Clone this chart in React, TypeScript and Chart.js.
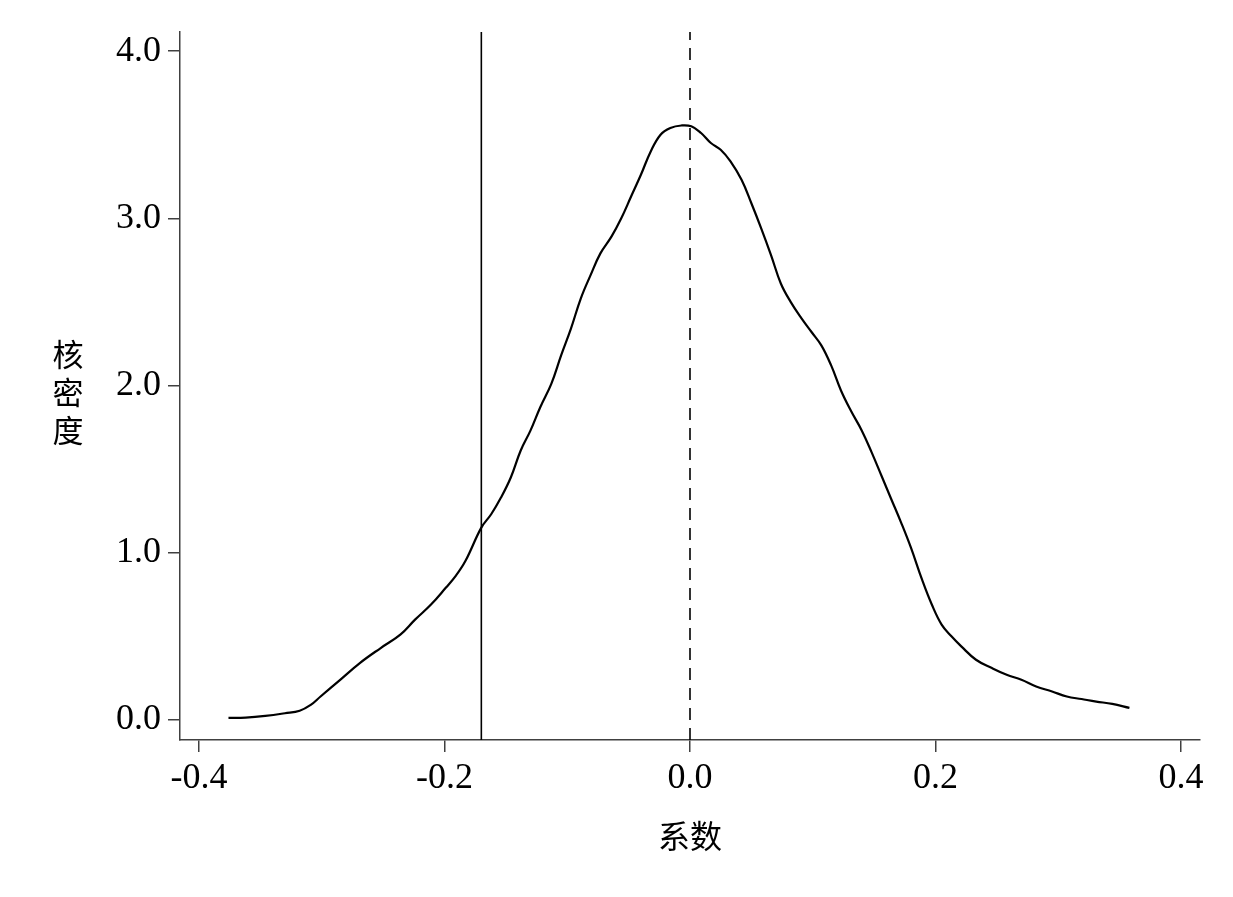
import React, { useEffect, useRef } from "react";
import { Chart, registerables } from "chart.js";

Chart.register(...registerables);

const densityX = [
  -0.376, -0.362, -0.346, -0.330, -0.318, -0.309, -0.301, -0.285, -0.269, -0.252,
  -0.236, -0.224, -0.211, -0.199, -0.191, -0.183, -0.170, -0.162, -0.154, -0.146,
  -0.138, -0.130, -0.122, -0.113, -0.105, -0.097, -0.089, -0.081, -0.073, -0.064,
  -0.056, -0.048, -0.040, -0.032, -0.024, -0.016, -0.007, 0.001, 0.009, 0.017,
  0.025, 0.033, 0.042, 0.050, 0.058, 0.066, 0.074, 0.082, 0.091, 0.099,
  0.107, 0.115, 0.123, 0.131, 0.140, 0.148, 0.156, 0.164, 0.172, 0.180,
  0.189, 0.197, 0.205, 0.213, 0.221, 0.233, 0.246, 0.258, 0.270, 0.282,
  0.295, 0.307, 0.319, 0.331, 0.344, 0.358,
];
const densityY = [
  0.012, 0.014, 0.024, 0.040, 0.055, 0.090, 0.140, 0.240, 0.340, 0.430,
  0.510, 0.600, 0.690, 0.790, 0.860, 0.950, 1.150, 1.230, 1.330, 1.450,
  1.610, 1.730, 1.870, 2.010, 2.180, 2.340, 2.520, 2.660, 2.790, 2.890,
  3.000, 3.130, 3.260, 3.400, 3.500, 3.540, 3.555, 3.550, 3.510, 3.450,
  3.410, 3.340, 3.230, 3.090, 2.940, 2.780, 2.610, 2.500, 2.400, 2.320,
  2.240, 2.120, 1.970, 1.850, 1.730, 1.600, 1.460, 1.320, 1.180, 1.030,
  0.840, 0.690, 0.570, 0.500, 0.440, 0.360, 0.310, 0.270, 0.240, 0.200,
  0.170, 0.140, 0.125, 0.110, 0.096, 0.072,
];
const solidLineX = -0.17;
const dashedLineX = 0.0;
const xTicks = [-0.4, -0.2, 0.0, 0.2, 0.4];
const yTicks = [0, 1, 2, 3, 4];
const xTitle = "系数";
const yTitle = "核密度";

const X_MIN = -0.4155;
const X_MAX = 0.4155;
const Y_MIN = -0.12;
const Y_MAX = 4.114;

const SERIF = "'Liberation Serif', 'Times New Roman', serif";
const CJK = "'Noto Sans CJK SC', sans-serif";

const stackedYTitle = {
  id: "stackedYTitle",
  afterDraw(chart: any) {
    const ctx = chart.ctx;
    const chars = Array.from(yTitle);
    const lineH = 38;
    const cy = 392;
    const startY = cy - ((chars.length - 1) * lineH) / 2;
    ctx.save();
    ctx.fillStyle = "#000";
    ctx.font = `31px ${CJK}`;
    ctx.textAlign = "center";
    ctx.textBaseline = "middle";
    chars.forEach((c, i) => ctx.fillText(c, 68, startY + i * lineH));
    ctx.restore();
  },
};

export default function App() {
  const ref = useRef<HTMLCanvasElement>(null);
  useEffect(() => {
    if (!ref.current) return;
    const chart = new Chart(ref.current, {
      type: "line",
      data: {
        datasets: [
          {
            data: densityX.map((x, i) => ({ x, y: densityY[i] })),
            borderColor: "#000",
            borderWidth: 2.2,
            pointRadius: 0,
            tension: 0.4,
            fill: false,
          },
          {
            data: [
              { x: solidLineX, y: Y_MIN },
              { x: solidLineX, y: Y_MAX },
            ],
            borderColor: "#000",
            borderWidth: 1.6,
            pointRadius: 0,
            tension: 0,
          },
          {
            data: [
              { x: dashedLineX, y: Y_MIN },
              { x: dashedLineX, y: Y_MAX },
            ],
            borderColor: "#000",
            borderWidth: 1.6,
            borderDash: [12, 8],
            pointRadius: 0,
            tension: 0,
          },
        ],
      },
      options: {
        responsive: false,
        animation: false,
        layout: { padding: { left: 0, top: 32, right: 33, bottom: 0 } },
        plugins: { legend: { display: false }, tooltip: { enabled: false } },
        scales: {
          x: {
            type: "linear",
            min: X_MIN,
            max: X_MAX,
            afterBuildTicks: (s: any) => {
              s.ticks = xTicks.map((v) => ({ value: v }));
            },
            afterFit: (s: any) => {
              s.height = 157;
            },
            border: { display: true, color: "#404040", width: 1.5 },
            grid: {
              display: true,
              drawOnChartArea: false,
              drawTicks: true,
              tickLength: 12,
              color: "#404040",
              lineWidth: 1.5,
            },
            ticks: {
              color: "#000",
              font: { family: SERIF, size: 36 },
              padding: 5,
              maxRotation: 0,
              callback: (v: any) => Number(v).toFixed(1),
            },
            title: {
              display: true,
              text: xTitle,
              color: "#000",
              font: { family: CJK, size: 32 },
              padding: { top: 4, bottom: 42 },
            },
          },
          y: {
            type: "linear",
            min: Y_MIN,
            max: Y_MAX,
            afterBuildTicks: (s: any) => {
              s.ticks = yTicks.map((v) => ({ value: v }));
            },
            afterFit: (s: any) => {
              s.width = 180;
            },
            border: { display: true, color: "#404040", width: 1.5 },
            grid: {
              display: true,
              drawOnChartArea: false,
              drawTicks: true,
              tickLength: 12,
              color: "#404040",
              lineWidth: 1.5,
            },
            ticks: {
              color: "#000",
              font: { family: SERIF, size: 36 },
              padding: 7,
              callback: (v: any) => Number(v).toFixed(1),
            },
          },
        },
      },
      plugins: [stackedYTitle],
    });
    return () => chart.destroy();
  }, []);
  return (
    <div style={{ position: "fixed", left: 0, top: 0, width: 1233, height: 897, background: "#fff" }}>
      <canvas ref={ref} width={1233} height={897} />
    </div>
  );
}
